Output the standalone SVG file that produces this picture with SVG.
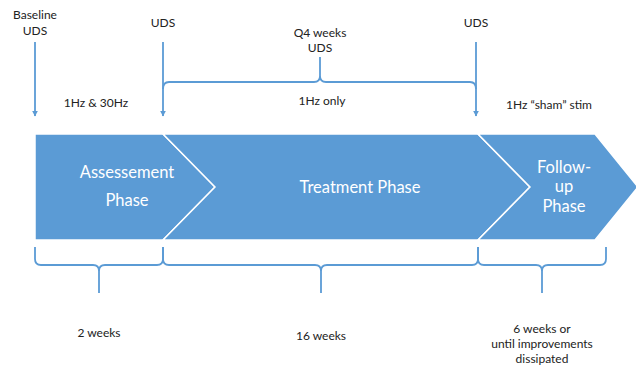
<svg xmlns="http://www.w3.org/2000/svg" width="636" height="368" viewBox="0 0 636 368">
<defs>
<marker id="ah" viewBox="0 0 10 10" refX="9" refY="5" markerWidth="6" markerHeight="6" orient="auto" markerUnits="userSpaceOnUse">
<path d="M0,0 L10,5 L0,10 Z" fill="#5B9BD5"/>
</marker>
<style>
.phase{fill:#5B9BD5;stroke:#FFFFFF;stroke-width:1.5;stroke-linejoin:miter}
.pt{font-family:Lato,"Open Sans","Liberation Sans",sans-serif;font-size:16.5px;fill:#FFFFFF;text-anchor:middle}
.lbl{font-family:Lato,"Open Sans","Liberation Sans",sans-serif;font-size:12px;fill:#222222;text-anchor:middle}
.ln{fill:none;stroke:#5B9BD5;stroke-width:1.8}
</style>
</defs>
<rect width="636" height="368" fill="#FFFFFF"/>
<g id="assessment">
<polygon class="phase" points="35,134 163,134 215,187 163,240 35,240"/>
<text class="pt" x="127" y="178">Assessement</text>
<text class="pt" x="127" y="206">Phase</text>
</g>
<g id="treatment">
<polygon class="phase" points="163,134 478,134 530,187 478,240 163,240 215,187"/>
<text class="pt" x="360" y="193">Treatment Phase</text>
</g>
<g id="followup">
<polygon class="phase" points="478,134 595,134 638,187 595,240 478,240 530,187"/>
<text class="pt" x="564" y="173">Follow-</text>
<text class="pt" x="564" y="192">up</text>
<text class="pt" x="564" y="212">Phase</text>
</g>
<g id="labels">
<text class="lbl" x="35" y="19">Baseline</text>
<text class="lbl" x="35" y="35">UDS</text>
<text class="lbl" x="163" y="27">UDS</text>
<text class="lbl" x="320" y="37">Q4 weeks</text>
<text class="lbl" x="320" y="52">UDS</text>
<text class="lbl" x="476" y="27">UDS</text>
<text class="lbl" x="96" y="107">1Hz &amp; 30Hz</text>
<text class="lbl" x="322" y="105">1Hz only</text>
<text class="lbl" x="549" y="109">1Hz “sham” stim</text>
<text class="lbl" x="99" y="337">2 weeks</text>
<text class="lbl" x="321" y="340">16 weeks</text>
<text class="lbl" x="542" y="333">6 weeks or</text>
<text class="lbl" x="542" y="348">until improvements</text>
<text class="lbl" x="542" y="363">dissipated</text>
</g>
<g id="connectors">
<line class="ln" x1="35" y1="42" x2="35" y2="116" marker-end="url(#ah)"/>
<line class="ln" x1="163" y1="42" x2="163" y2="116" marker-end="url(#ah)"/>
<line class="ln" x1="476" y1="42" x2="476" y2="116" marker-end="url(#ah)"/>
<path class="ln" d="M163,89 Q163,82 169,82 H314 Q320,82 320,76 V57 M320,76 Q320,82 326,82 H470 Q476,82 476,89"/>
<path class="ln" d="M35,247 V259 Q35,265 41,265 H93 Q99,265 99,271 V293 M99,271 Q99,265 105,265 H157 Q163,265 163,259 V247"/>
<path class="ln" d="M163,247 V259 Q163,265 169,265 H315 Q321,265 321,271 V293 M321,271 Q321,265 327,265 H472 Q478,265 478,259 V247"/>
<path class="ln" d="M478,247 V259 Q478,265 484,265 H536 Q542,265 542,271 V293 M542,271 Q542,265 548,265 H600 Q606,265 606,259 V247"/>
</g>
</svg>
